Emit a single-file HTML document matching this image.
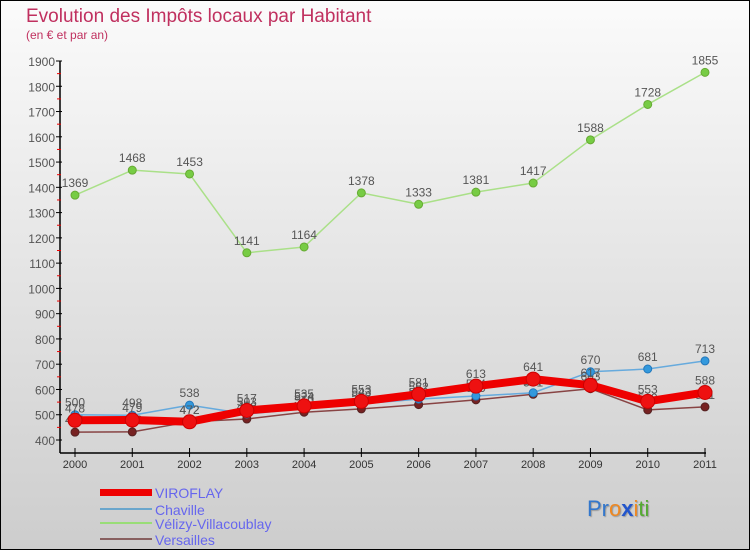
<!DOCTYPE html>
<html><head><meta charset="utf-8">
<style>
body{margin:0;width:750px;height:550px;overflow:hidden;font-family:"Liberation Sans",sans-serif;}
svg{display:block}
</style></head>
<body>
<svg id="c" width="750" height="550" xmlns="http://www.w3.org/2000/svg">
<defs><linearGradient id="bg" x1="0" y1="0" x2="0" y2="1"><stop offset="0" stop-color="#fbfbfb"/><stop offset="1" stop-color="#cdcdcd"/></linearGradient></defs>
<rect x="0.5" y="0.5" width="749" height="549" fill="url(#bg)" stroke="#000"/>
<text x="26" y="22" font-size="19" fill="#c0305f">Evolution des Impôts locaux par Habitant</text>
<text x="26" y="39" font-size="12" fill="#c0305f">(en € et par an)</text>
<g id="axes"></g><g id="series"></g>
<g>
<rect x="100" y="489" width="52" height="7" fill="#ee0000"/>
<text x="155" y="498" font-size="14" fill="#6666ee">VIROFLAY</text>
<line x1="100" y1="509" x2="152" y2="509" stroke="#6aa6cc" stroke-width="2"/>
<text x="155" y="515" font-size="14" fill="#6666ee">Chaville</text>
<line x1="100" y1="523" x2="152" y2="523" stroke="#99dd77" stroke-width="2"/>
<text x="155" y="529" font-size="14" fill="#6666ee">Vélizy-Villacoublay</text>
<line x1="100" y1="539" x2="152" y2="539" stroke="#886060" stroke-width="2"/>
<text x="155" y="545" font-size="14" fill="#6666ee">Versailles</text>
</g>
<text x="587" y="516" font-size="22" style="text-shadow:1px 1px 1px #999"><tspan fill="#3377cc">Pr</tspan><tspan fill="#ee8822">o</tspan><tspan fill="#2255cc" font-weight="bold">x</tspan><tspan fill="#ee8822">i</tspan><tspan fill="#55aa33">ti</tspan></text>
</svg>
<script>
const years=[2000,2001,2002,2003,2004,2005,2006,2007,2008,2009,2010,2011];
const yTicks=[400,500,600,700,800,900,1000,1100,1200,1300,1400,1500,1600,1700,1800,1900];
const viroflay=[478,479,472,517,535,553,581,613,641,617,553,588];
const chaville=[500,498,538,503,524,543,562,574,587,670,681,713];
const velizy=[1369,1468,1453,1141,1164,1378,1333,1381,1417,1588,1728,1855];
const versailles=[431,432,472,483,510,523,540,559,581,603,519,531];
const NS="http://www.w3.org/2000/svg";
const X=i=>75+i*(630/11);
const Y=v=>440-(v-400)*(379/1500);
function mk(t,a,p){const e=document.createElementNS(NS,t);for(const k in a)e.setAttribute(k,a[k]);p.appendChild(e);return e;}
const ax=document.getElementById('axes');
const yl=mk('line',{x1:60,y1:Y(1900),x2:60,y2:453,stroke:'#000','stroke-width':1.5},ax);


const xl=mk('line',{x1:60,y1:453,x2:706,y2:453,stroke:'#000','stroke-width':1.5},ax);


yTicks.forEach((v,i)=>{
  mk('line',{x1:56,y1:Y(v),x2:62,y2:Y(v),stroke:'#000'},ax);
  if(i<yTicks.length-1)mk('line',{x1:57,y1:Y(v+50),x2:61,y2:Y(v+50),stroke:'#e00'},ax);
  const t=mk('text',{x:55,y:Y(v)+5,'font-size':12,fill:'#555','text-anchor':'end'},ax);
  t.textContent=v;
  
  
});
years.forEach((y,i)=>{
  mk('line',{x1:X(i),y1:448,x2:X(i),y2:457,stroke:'#000'},ax);
  const t=mk('text',{x:X(i),y:468,'font-size':11,fill:'#333','text-anchor':'middle'},ax);
  t.textContent=y;
  
  
});
const sg=document.getElementById('series');
function series(name,vals,color,w,dot,dotFill,dotR){
  const g=mk('g',{},sg);
  
  
  const p=mk('polyline',{points:vals.map((v,i)=>X(i)+','+Y(v)).join(' '),fill:'none',stroke:color,'stroke-width':w,'stroke-linejoin':'round'},g);
  
  
  vals.forEach((v,i)=>{
    const c=mk('circle',{cx:X(i),cy:Y(v),r:dotR,fill:dotFill,stroke:dot,'stroke-width':1},g);
    
    
    const t=mk('text',{x:X(i),y:Y(v)-8,'font-size':12,fill:'#555','text-anchor':'middle'},g);
    t.textContent=v;
    
    
  });
}
series('versailles',versailles,'#884444',1.5,'#552222','#772222',4);
series('chaville',chaville,'#66aadd',1.5,'#2277bb','#3399dd',4);
series('velizy',velizy,'#aae088',1.5,'#66aa33','#77cc44',4);
series('viroflay',viroflay,'#ee0000',8,'#cc0000','#ee1111',7);
</script>
</body></html>
